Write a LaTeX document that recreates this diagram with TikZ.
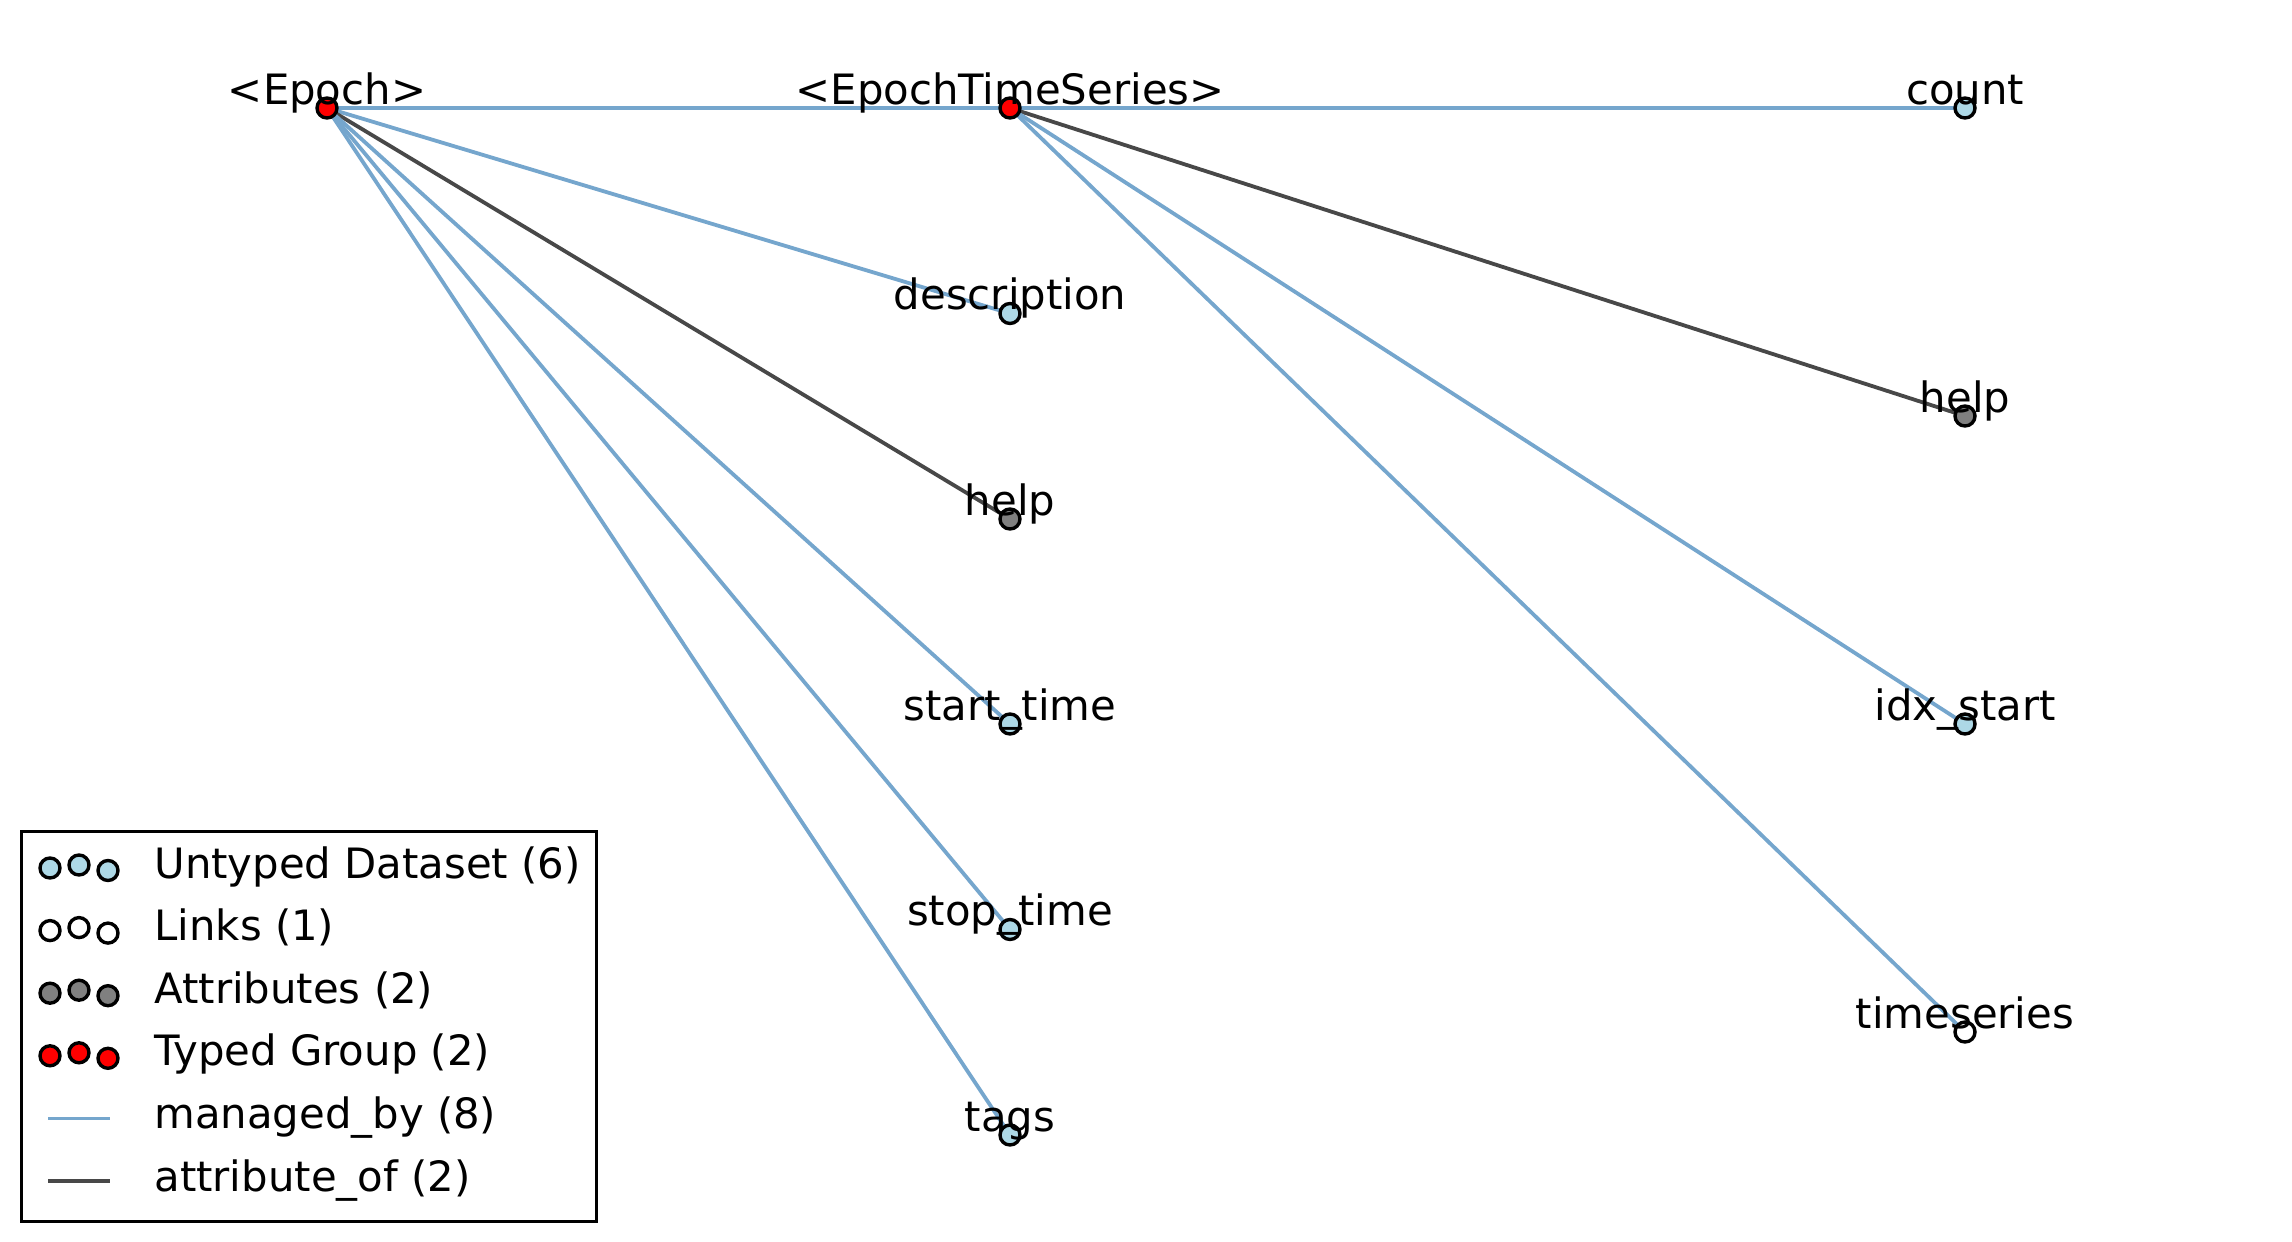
\documentclass[tikz,border=0pt]{standalone}
\usepackage{fontspec}
\setmainfont{DejaVu Sans}
\usetikzlibrary{backgrounds}
\definecolor{mblue}{RGB}{117,166,205}
\definecolor{adark}{RGB}{72,72,72}
\definecolor{ltblue}{RGB}{173,216,230}
\definecolor{agray}{RGB}{128,128,128}
\begin{document}
\begin{tikzpicture}[x=0.5pt,y=-0.5pt,
  dot/.style={circle,draw=black,line width=1.7pt,inner sep=0pt,minimum size=10pt},
  dset/.style={dot,fill=ltblue},
  dlink/.style={dot,fill=white},
  dattr/.style={dot,fill=agray},
  dgroup/.style={dot,fill=red},
  lab/.style={anchor=base,inner sep=0pt,font=\fontsize{20.9}{24}\selectfont},
  legtext/.style={anchor=base west,inner sep=0pt,font=\fontsize{20.9}{24}\selectfont},
  managed/.style={draw=mblue,line width=1.9pt},
  attrof/.style={draw=adark,line width=1.9pt}]
\useasboundingbox (0,0) rectangle (2292,1242);
% nodes
\node[dgroup] (epoch) at (327,108) {};
\node[dgroup] (ets) at (1010,108) {};
\node[dset] (desc) at (1010,313.5) {};
\node[dattr] (help1) at (1010,519) {};
\node[dset] (start) at (1010,724) {};
\node[dset] (stop) at (1010,929.5) {};
\node[dset] (tags) at (1010,1135) {};
\node[dset] (count) at (1965,108) {};
\node[dattr] (help2) at (1965,416) {};
\node[dset] (idx) at (1965,724) {};
\node[dlink] (ts) at (1965,1032) {};
% edges
\begin{scope}[on background layer]
\draw[managed] (epoch.center) -- (ets.center);
\draw[managed] (epoch.center) -- (desc.center);
\draw[attrof] (epoch.center) -- (help1.center);
\draw[managed] (epoch.center) -- (start.center);
\draw[managed] (epoch.center) -- (stop.center);
\draw[managed] (epoch.center) -- (tags.center);
\draw[managed] (ets.center) -- (count.center);
\draw[attrof] (ets.center) -- (help2.center);
\draw[managed] (ets.center) -- (idx.center);
\draw[managed] (ets.center) -- (ts.center);
\end{scope}
% labels
\node[lab] (lepoch) at (327,104) {<Epoch>};
\node[lab] (lets) at (1010,104) {<EpochTimeSeries>};
\node[lab] (ldesc) at (1010,309.5) {description};
\node[lab] (lhelp1) at (1010,515) {help};
\node[lab] (lstart) at (1010,720) {start\_time};
\node[lab] (lstop) at (1010,925.5) {stop\_time};
\node[lab] (ltags) at (1010,1131) {tags};
\node[lab] (lcount) at (1965,104) {count};
\node[lab] (lhelp2) at (1965,412) {help};
\node[lab] (lidx) at (1965,720) {idx\_start};
\node[lab] (lts) at (1965,1028) {timeseries};
% legend
\node[draw=black,line width=1.5pt,fill=white,minimum width=287.5pt,minimum height=195pt,anchor=north west,inner sep=0pt] (legbox) at (20,830) {};
\foreach \r/\sty/\txt [count=\i from 0] in {0/dset/Untyped Dataset (6),1/dlink/Links (1),2/dattr/Attributes (2),3/dgroup/Typed Group (2)}{
  \node[\sty] (lg\i a) at (50,868+62.6*\r) {};
  \node[\sty] (lg\i b) at (79,865+62.6*\r) {};
  \node[\sty] (lg\i c) at (108,870.5+62.6*\r) {};
  \node[legtext] (lgt\i) at (154,878+62.6*\r) {\txt};
}
\coordinate (lm1) at (48,1118.4);
\coordinate (lm2) at (110,1118.4);
\draw[managed] (lm1) -- (lm2);
\node[legtext] (lgt4) at (154,1128.4) {managed\_by (8)};
\coordinate (la1) at (48,1181);
\coordinate (la2) at (110,1181);
\draw[attrof] (la1) -- (la2);
\node[legtext] (lgt5) at (154,1191) {attribute\_of (2)};
\end{tikzpicture}
\end{document}
